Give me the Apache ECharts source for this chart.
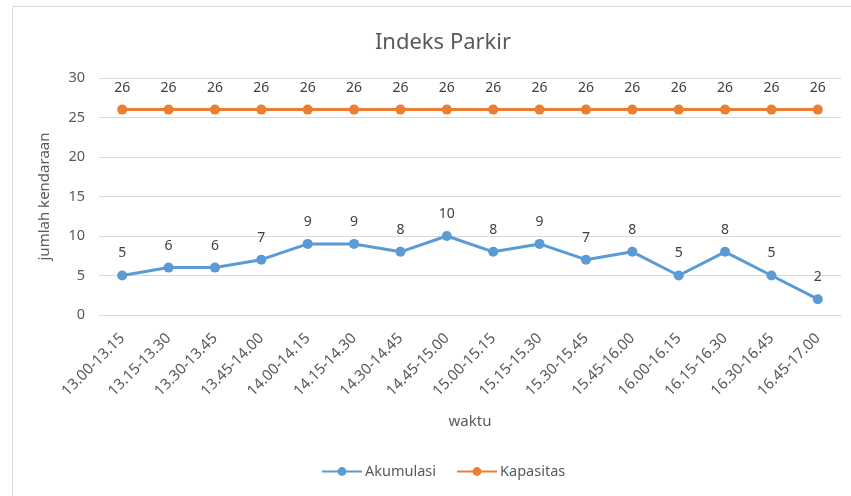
<!DOCTYPE html>
<html>
<head>
<meta charset="utf-8">
<script src="https://cdn.jsdelivr.net/npm/echarts@6/dist/echarts.min.js"></script>
<style>
  html, body { margin: 0; padding: 0; background: #fff; }
  #chart { width: 851px; height: 496px; }
</style>
</head>
<body>
<div id="chart"></div>
<script>
const categories = [
  "13.00-13.15", "13.15-13.30", "13.30-13.45", "13.45-14.00",
  "14.00-14.15", "14.15-14.30", "14.30-14.45", "14.45-15.00",
  "15.00-15.15", "15.15-15.30", "15.30-15.45", "15.45-16.00",
  "16.00-16.15", "16.15-16.30", "16.30-16.45", "16.45-17.00"
];
const akumulasi = [5, 6, 6, 7, 9, 9, 8, 10, 8, 9, 7, 8, 5, 8, 5, 2];
const kapasitas = [26, 26, 26, 26, 26, 26, 26, 26, 26, 26, 26, 26, 26, 26, 26, 26];

const font = "Noto Sans";
const txt = "#595959";

const makeSeries = (name, data, color) => ({
  name: name,
  type: "line",
  data: data,
  symbol: "circle",
  symbolSize: 10,
  lineStyle: { width: 3, color: color },
  itemStyle: { color: color },
  label: {
    show: true,
    position: "top",
    distance: 10,
    color: "#404040",
    fontFamily: font,
    fontSize: 14,
  },
});

const chart = echarts.init(document.getElementById("chart"));
chart.setOption({
  animation: false,
  title: {
    text: "Indeks Parkir",
    left: 438,
    textAlign: "center",
    top: 27,
    textStyle: { fontFamily: font, fontSize: 22, fontWeight: "normal", color: txt },
  },
  graphic: [{
    type: "rect",
    shape: { x: 12.5, y: 6.5, width: 900, height: 600 },
    style: { fill: "none", stroke: "#d9d9d9", lineWidth: 1 },
  }],
  legend: {
    bottom: 12,
    left: 316,
    itemWidth: 40,
    itemHeight: 11,
    itemGap: 20,
    textStyle: { fontFamily: font, fontSize: 14.5, color: txt, padding: [0, 0, 0, -2] },
    data: ["Akumulasi", "Kapasitas"],
  },
  grid: { left: 99, right: 10, top: 78, bottom: 181 },
  xAxis: {
    type: "category",
    data: categories,
    boundaryGap: true,
    name: "waktu",
    nameLocation: "middle",
    nameGap: 99,
    nameTextStyle: { fontFamily: font, fontSize: 15, color: txt },
    axisLine: { lineStyle: { color: "#d9d9d9" } },
    axisTick: { show: false },
    axisLabel: { rotate: 45, interval: 0, fontFamily: font, fontSize: 15, color: txt, margin: 21 },
  },
  yAxis: {
    type: "value",
    min: 0,
    max: 30,
    interval: 5,
    name: "jumlah kendaraan",
    nameLocation: "middle",
    nameGap: 47,
    nameTextStyle: { fontFamily: font, fontSize: 15, color: txt },
    axisLine: { show: false },
    axisTick: { show: false },
    axisLabel: { fontFamily: font, fontSize: 14.5, color: txt, margin: 14 },
    splitLine: { lineStyle: { color: "#d9d9d9" } },
  },
  series: [
    makeSeries("Akumulasi", akumulasi, "#5B9BD5"),
    makeSeries("Kapasitas", kapasitas, "#ED7D31"),
  ],
});
</script>
</body>
</html>
